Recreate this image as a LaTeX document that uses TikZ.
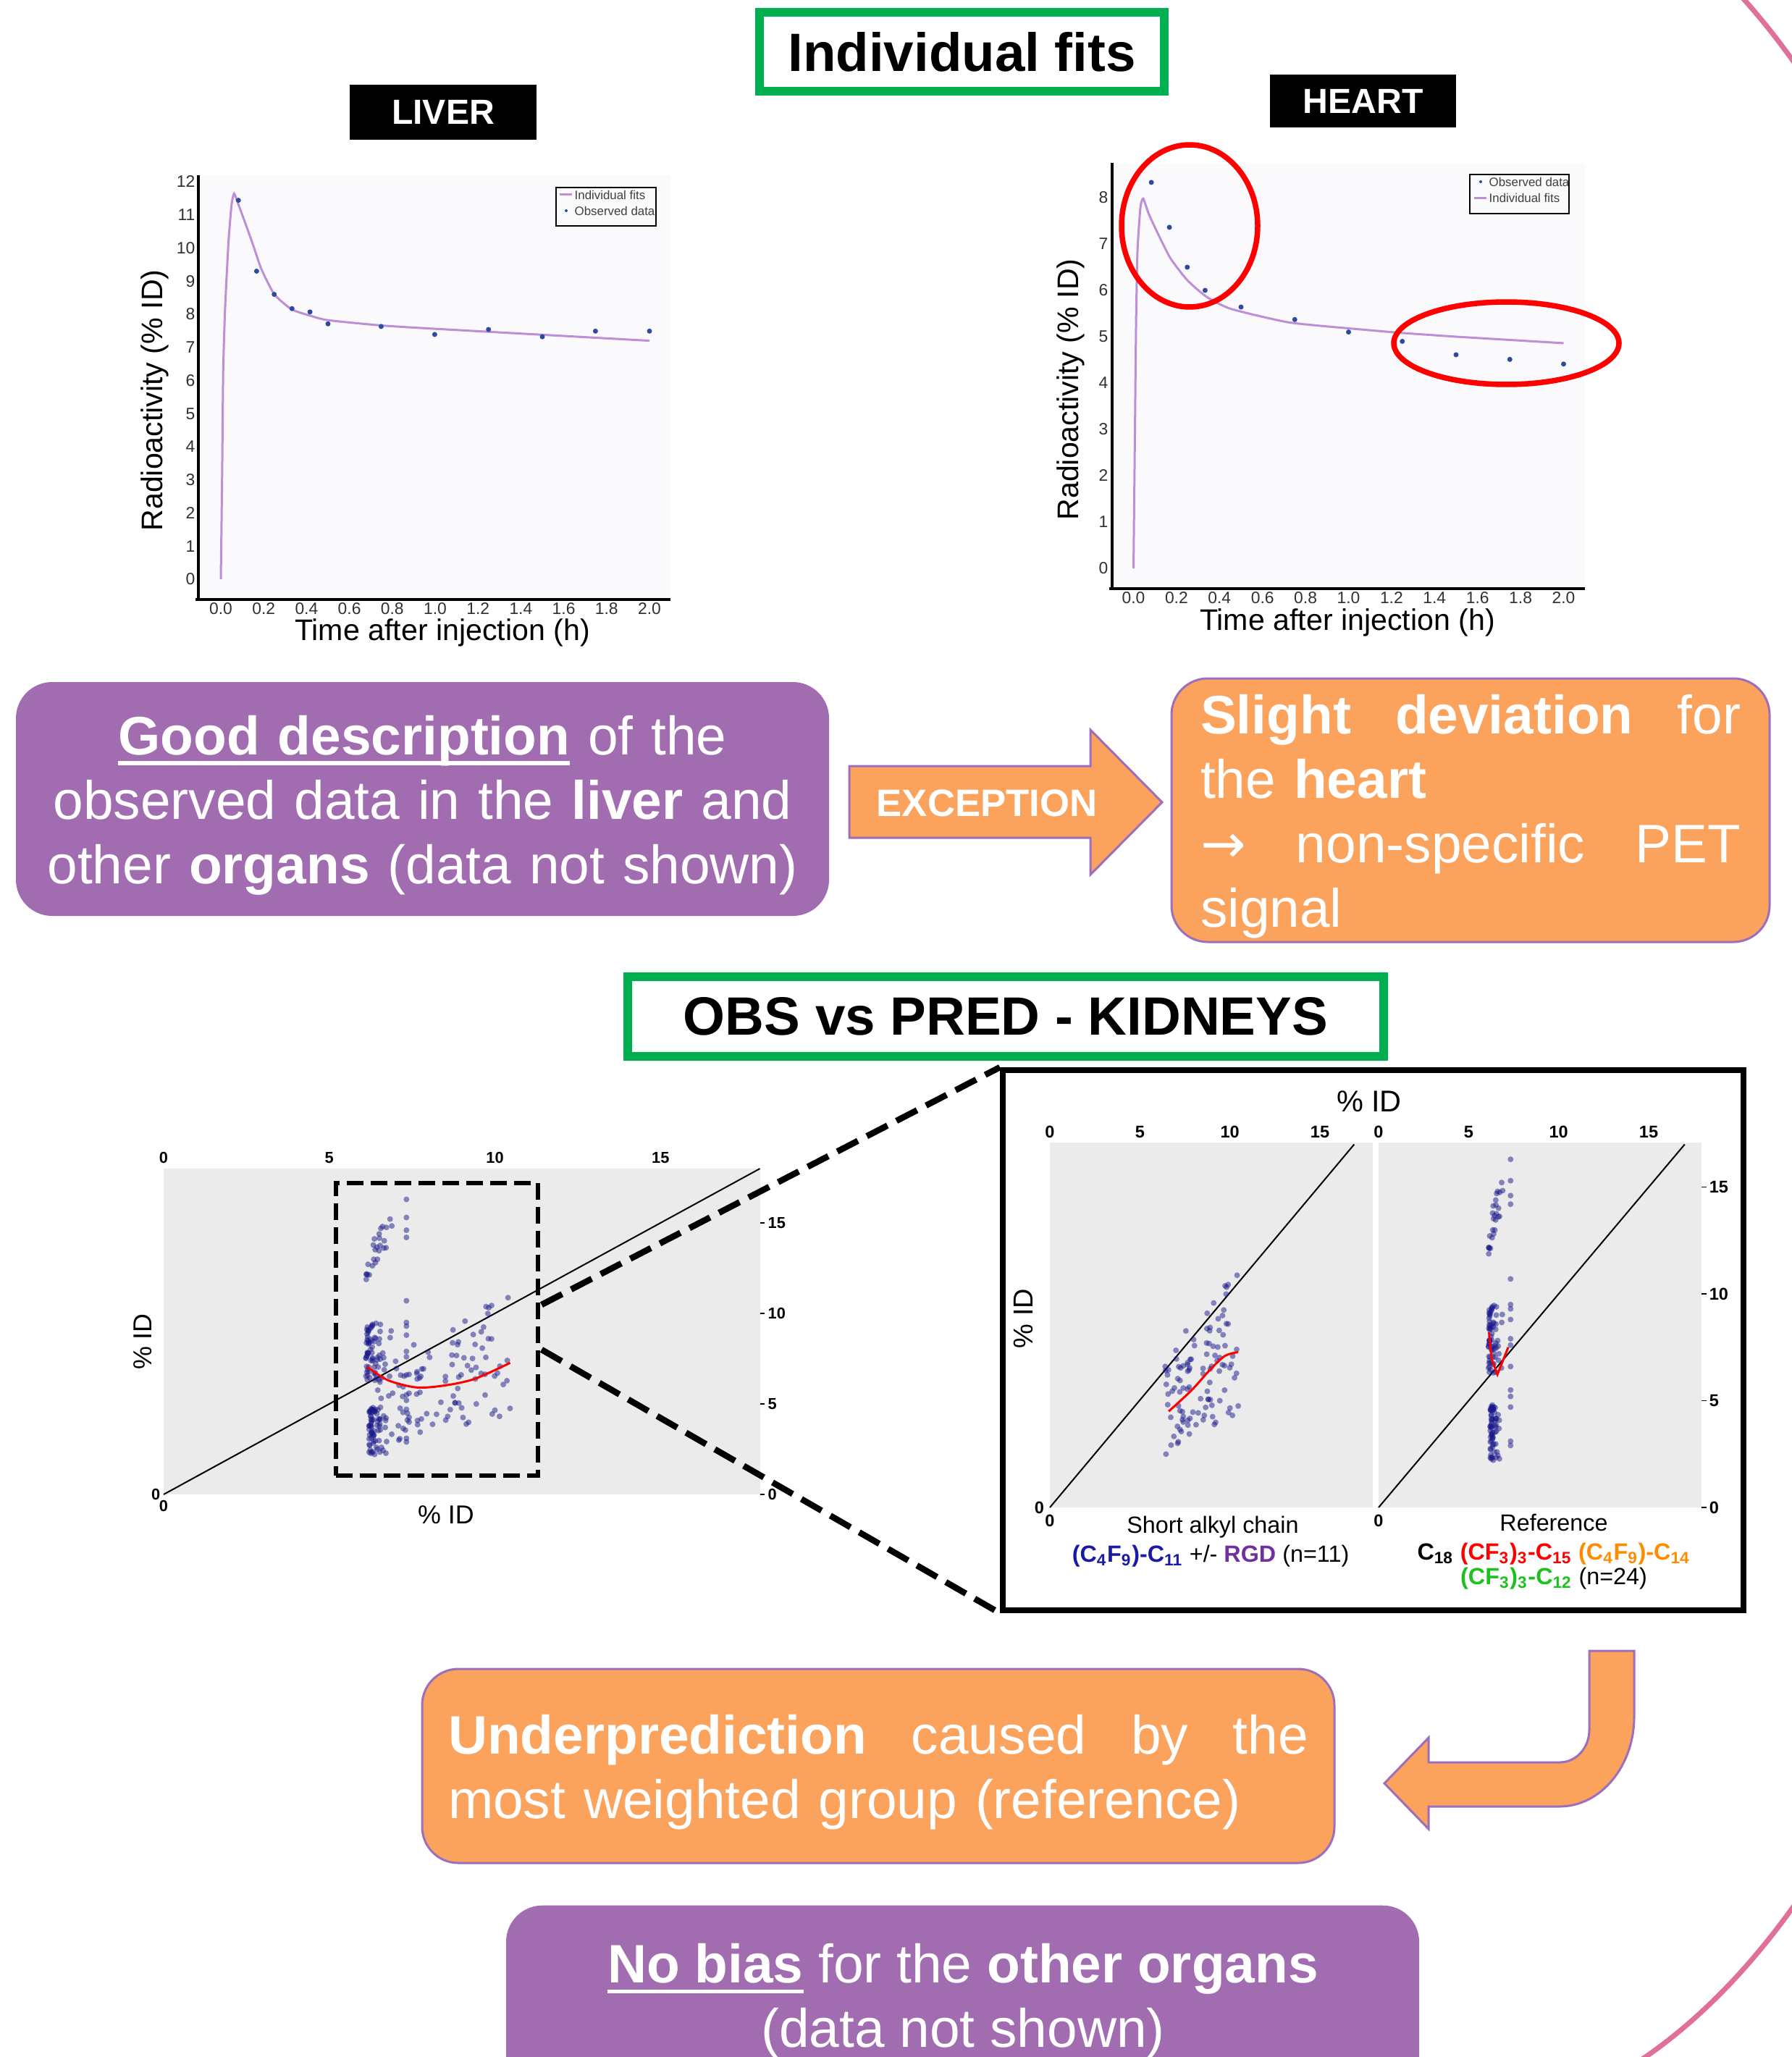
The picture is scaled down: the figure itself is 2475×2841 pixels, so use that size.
\documentclass[tikz,border=0pt]{standalone}
\usepackage{fontspec}
\setmainfont{Liberation Sans}
\newfontfamily\arrowfont{DejaVu Sans}
\usetikzlibrary{calc}

\definecolor{mypurple}{HTML}{A16CB0}
\definecolor{myorange}{HTML}{FBA25D}
\definecolor{edgepurple}{HTML}{9E6EBE}
\definecolor{mygreen}{HTML}{00B050}
\definecolor{fitline}{HTML}{BD8FD6}
\definecolor{obsdot}{HTML}{2E4A9C}
\definecolor{panelbg}{HTML}{FAFAFD}
\definecolor{scatbg}{HTML}{EBEBEB}
\definecolor{navydot}{HTML}{1A1A8C}
\definecolor{pinkarc}{HTML}{E0709A}
\definecolor{chainblue}{HTML}{1A1AA6}
\definecolor{rgdpurple}{HTML}{7030A0}
\definecolor{cforange}{HTML}{FF8C00}
\definecolor{cfgreen}{HTML}{1EC01E}
\definecolor{tickgray}{HTML}{303030}
\definecolor{legendgray}{HTML}{404040}

\newcommand\fsz[2]{\fontsize{#1}{#2}\selectfont}
\newcommand\myul[1]{\setbox0=\hbox{#1}\rlap{\rule[-0.19em]{\wd0}{0.075em}}\box0\relax}

% short alkyl chain group
\newcommand\groupS{%
  \pgfmathsetseed{11}%
  \foreach \i in {1,...,110}{%
    \pgfmathsetmacro\qa{6.4+4.1*rnd}%
    \pgfmathsetmacro\qlo{2.4+0.5*(\qa-6.4)}%
    \pgfmathsetmacro\qhi{7.2+1.0*(\qa-6.4)}%
    \pgfmathsetmacro\qb{\qlo+rnd*(\qhi-\qlo)}%
    \fill[sdot] (\qa,\qb) circle[radius=0.4mm];
  }%
}
% reference group
\newcommand\groupR{%
  \pgfmathsetseed{5}%
  \foreach \i in {1,...,26}{%
    \pgfmathsetmacro\qt{rnd}%
    \pgfmathsetmacro\qa{6.15+0.65*\qt+0.15*rand}%
    \pgfmathsetmacro\qb{11.8+3.4*\qt+0.5*rand}%
    \fill[sdot] (\qa,\qb) circle[radius=0.4mm];
  }%
  \foreach \i in {1,...,70}{%
    \pgfmathsetmacro\qa{6.1+0.9*rnd*rnd}%
    \pgfmathsetmacro\qb{6.3+3.2*rnd}%
    \fill[sdot] (\qa,\qb) circle[radius=0.4mm];
  }%
  \foreach \i in {1,...,70}{%
    \pgfmathsetmacro\qa{6.2+0.75*rnd*rnd}%
    \pgfmathsetmacro\qb{2.2+2.6*rnd}%
    \fill[sdot] (\qa,\qb) circle[radius=0.4mm];
  }%
  \foreach \qb in {16.3,15.3,14.6,14.2,10.7,9.5,9.3,8.8,7.9,7.6,6.6,5.5,5.2,4.7,3.1,2.9}{%
    \fill[sdot] (7.33,\qb) circle[radius=0.4mm];
  }%
}

\begin{document}
\begin{tikzpicture}[x=0.1mm,y=-0.1mm,
  boxtxt/.style={text=white, font=\fsz{21.3}{25.3}, inner sep=0pt},
  purplebox/.style={fill=mypurple, rounded corners=5mm, inner sep=0pt},
  orangebox/.style={fill=myorange, draw=edgepurple, line width=0.3mm, rounded corners=5mm, inner sep=0pt},
  titlebox/.style={draw=mygreen, line width=1.2mm, fill=white, font=\fsz{21.2}{25}\bfseries, inner sep=0pt},
  organlbl/.style={fill=black, text=white, font=\fsz{13.7}{16}\bfseries, inner sep=0pt},
  ticklbl/.style={font=\fsz{6.5}{7.5}, text=tickgray, inner sep=0pt},
  axtitle/.style={font=\fsz{11.7}{14}, inner sep=0pt},
  axisline/.style={line width=0.35mm, black},
  fitcurve/.style={line width=0.3mm, fitline},
  legtxt/.style={font=\fsz{4.8}{6}, text=legendgray, inner sep=0pt, anchor=west},
  redring/.style={draw=red, line width=0.75mm},
  sdot/.style={fill=navydot, fill opacity=0.5},
  scatlbl/.style={font=\fsz{6.2}{7}\bfseries, inner sep=0pt},
  inlbl/.style={font=\fsz{6.7}{7.5}\bfseries, inner sep=0pt},
  loess/.style={red, line width=0.3mm},
  diagline/.style={black, line width=0.2mm},
  capt/.style={font=\fsz{9.2}{11}, inner sep=0pt},
  zoomdash/.style={dash pattern=on 2.3mm off 1mm, line width=0.6mm},
  conndash/.style={dash pattern=on 3.2mm off 1.4mm, line width=0.85mm},
  arrowshape/.style={fill=myorange, draw=edgepurple, line width=0.3mm},
]
\useasboundingbox (0,0) rectangle (2475,2841);

% decorative pink arc
\begin{scope}
  \clip (0,0) rectangle (2475,2841);
  \draw[pinkarc, line width=0.7mm] plot[domain=-80:75, samples=150, smooth] ({1995+820*cos(\x)},{1359-1575*sin(\x)});
\end{scope}

% ---------- titles ----------
\node[titlebox, minimum width=55.9mm, minimum height=10.9mm] (tfit) at (1328.5,71.5) {Individual fits};
\node[organlbl, minimum width=25.8mm, minimum height=7.6mm] (liver) at (612,155) {LIVER};
\node[organlbl, minimum width=25.7mm, minimum height=7.3mm] (heart) at (1882.5,139.5) {HEART};

% ---------- liver plot ----------
\fill[panelbg] (274,242) rectangle (926,828);
\begin{scope}[shift={(305,800)}, x=29.6mm, y=4.575mm]
  \draw[fitcurve] plot[smooth, tension=0.35] coordinates {(0,0) (0.0065,3.4) (0.011,6.3) (0.02,8.2) (0.036,10.2) (0.05,11.3) (0.062,11.64) (0.08,11.35) (0.1,11.0) (0.118,10.68) (0.15,10.1) (0.19,9.35) (0.25,8.6) (0.33,8.15) (0.42,7.95) (0.5,7.82) (0.75,7.66) (1.0,7.56) (1.5,7.38) (2.0,7.2)};
  \foreach \t/\v in {0.082/11.44, 0.167/9.3, 0.249/8.6, 0.332/8.17, 0.416/8.07, 0.5/7.71, 0.748/7.63, 0.998/7.39, 1.249/7.54, 1.5/7.32, 1.748/7.49, 2.0/7.49}
    \fill[obsdot] (\t,\v) circle[radius=0.35mm];
  \foreach \v in {0,...,12} \node[ticklbl, anchor=east] (ly\v) at (-0.118,\v) {\v};
  \foreach \t/\l [count=\k] in {0/0.0, 0.2/0.2, 0.4/0.4, 0.6/0.6, 0.8/0.8, 1.0/1.0, 1.2/1.2, 1.4/1.4, 1.6/1.6, 1.8/1.8, 2.0/2.0}
    \node[ticklbl] (lx\k) at (\t,-0.896) {\l};
\end{scope}
\draw[axisline] (274,242) -- (274,830);
\draw[axisline] (270,828) -- (926,828);
\node[axtitle] (lxt) at (611,874) {Time after injection (h)};
\node[axtitle, rotate=90] (lyt) at (214,553) {Radioactivity (\% ID)};
\begin{scope}
  \clip (768,259) rectangle (906,312);
  \draw[fitcurve] (773,269) -- (790,269);
  \node[legtxt] (lleg1) at (793,269) {Individual fits};
  \fill[obsdot] (782,291) circle[radius=0.2mm];
  \node[legtxt] (lleg2) at (793,291) {Observed data};
\end{scope}
\draw[line width=0.25mm] (768,259) rectangle (906,312);

% ---------- heart plot ----------
\fill[panelbg] (1536,226) rectangle (2189,813);
\begin{scope}[shift={(1565.5,785)}, x=29.7mm, y=6.4mm]
  \draw[fitcurve] plot[smooth, tension=0.35] coordinates {(0,0) (0.006,2.6) (0.012,5.28) (0.0185,6.84) (0.032,7.78) (0.045,7.98) (0.071,7.65) (0.116,7.2) (0.172,6.69) (0.25,6.22) (0.34,5.86) (0.453,5.6) (0.72,5.31) (1.0,5.18) (1.25,5.08) (1.5,5.0) (1.75,4.93) (2.0,4.86)};
  \foreach \t/\v in {0.083/8.33, 0.167/7.36, 0.25/6.5, 0.333/6.0, 0.5/5.64, 0.75/5.37, 1.0/5.1, 1.25/4.9, 1.5/4.61, 1.75/4.51, 2.0/4.41}
    \fill[obsdot] (\t,\v) circle[radius=0.35mm];
  \foreach \v in {0,...,8} \node[ticklbl, anchor=east] (hy\v) at (-0.116,\v) {\v};
  \foreach \t/\l [count=\k] in {0/0.0, 0.2/0.2, 0.4/0.4, 0.6/0.6, 0.8/0.8, 1.0/1.0, 1.2/1.2, 1.4/1.4, 1.6/1.6, 1.8/1.8, 2.0/2.0}
    \node[ticklbl] (hx\k) at (\t,-0.64) {\l};
\end{scope}
\draw[axisline] (1536,225) -- (1536,815);
\draw[axisline] (1532,813) -- (2189,813);
\node[axtitle] (hxt) at (1861,860) {Time after injection (h)};
\node[axtitle, rotate=90] (hyt) at (1479,538) {Radioactivity (\% ID)};
\begin{scope}
  \clip (2030,241) rectangle (2167,295);
  \fill[obsdot] (2045,251) circle[radius=0.2mm];
  \node[legtxt] (hleg1) at (2056,251) {Observed data};
  \draw[fitcurve] (2036,273.5) -- (2053,273.5);
  \node[legtxt] (hleg2) at (2056,273.5) {Individual fits};
\end{scope}
\draw[line width=0.25mm] (2030,241) rectangle (2167,295);
\draw[redring] (1643,312) ellipse[x radius=94, y radius=112];
\draw[redring] (2080.5,474) ellipse[x radius=155.5, y radius=57];

% ---------- second row ----------
\node[purplebox, minimum width=112.3mm, minimum height=32.3mm] (goodbox) at (583.5,1103.5) {};
\node[boxtxt, text width=110mm, align=center] (good) at (583.5,1112.5)
  {\myul{\textbf{Good description}} of the\\ observed data in the \textbf{liver} and\\ other \textbf{organs} (data not shown)};
\draw[arrowshape] (1173,1058) -- (1506,1058) -- (1506,1008) -- (1605,1108) -- (1506,1208) -- (1506,1157) -- (1173,1157) -- cycle;
\node[font=\fsz{15}{18}\bfseries, text=white, inner sep=0pt] (exc) at (1363,1109) {EXCEPTION};
\node[orangebox, minimum width=82.6mm, minimum height=36.4mm] (slightbox) at (2031,1119) {};
\node[boxtxt, text width=74.6mm, align=left] (slight) at (2031,1128)
  {\makebox[74.6mm][l]{\textbf{Slight}\hfill\textbf{deviation}\hfill for}\\ the \textbf{heart}\\ \makebox[74.6mm][l]{{\arrowfont →}\hfill non-specific\hfill PET}\\ signal};

% ---------- OBS vs PRED ----------
\node[titlebox, minimum width=104.4mm, minimum height=11mm] (obs) at (1389,1404) {OBS vs PRED - KIDNEYS};

% big scatter
\fill[scatbg] (226,1614) rectangle (1050,2064);
\begin{scope}[shift={(226,2064)}, x=4.575mm, y=2.5mm]
  \draw[diagline] (0,0) -- (18,18);
  \groupS
  \groupR
  \draw[loess] plot[smooth] coordinates {(6.14,7.06) (6.77,6.31) (7.64,5.91) (8.52,6.03) (9.4,6.39) (10.46,7.27)};
  \foreach \v in {0,5,10,15}{%
    \node[scatlbl] (bt\v) at (\v,18.6) {\v};
    \draw[line width=0.15mm] (18,\v) -- (18.15,\v);
    \node[scatlbl, anchor=west] (br\v) at (18.23,\v) {\v};
  }
  \node[scatlbl] (bz1) at (0,-0.64) {0};
  \node[scatlbl, anchor=east] (bz2) at (-0.09,0) {0};
\end{scope}
\node[font=\fsz{10.2}{12}, inner sep=0pt, rotate=90] (bigyl) at (197,1853) {\% ID};
\node[font=\fsz{10.2}{12}, inner sep=0pt] (bigxl) at (616,2092) {\% ID};
\node[draw, zoomdash, minimum width=27.9mm, minimum height=40.4mm, inner sep=0pt] (zoomrect) at (603.5,1836) {};

% zoomed box
\node[draw, line width=0.8mm, minimum width=102.3mm, minimum height=74.6mm, inner sep=0pt] (zoombox) at (1896.5,1851) {};
\coordinate (cu) at ($(zoomrect.east)+(2,-34)$);
\coordinate (cl) at ($(zoomrect.east)+(2,28)$);
\draw[conndash] (cu) -- (zoombox.north west);
\draw[conndash] (cl) -- (zoombox.south west);

\node[font=\fsz{11.8}{14}, inner sep=0pt] (intop) at (1891,1521) {\% ID};
\node[font=\fsz{10.8}{13}, inner sep=0pt, rotate=90] (inyl) at (1413,1821) {\% ID};

% inner left panel
\fill[scatbg] (1450,1578) rectangle (1896,2082);
\begin{scope}[shift={(1450,2082)}, x=2.487mm, y=2.95mm]
  \draw[diagline] (0,0) -- (16.9,17.0);
  \groupS
  \draw[loess] plot[smooth] coordinates {(6.6,4.5) (7.87,5.49) (8.93,6.48) (9.73,7.1) (10.45,7.27)};
  \foreach \v in {0,5,10,15} \node[inlbl] (lt\v) at (\v,17.59) {\v};
  \node[inlbl] (lz1) at (0,-0.61) {0};
  \node[inlbl, anchor=east] (lz2) at (-0.3,0) {0};
\end{scope}

% inner right panel
\fill[scatbg] (1904,1578) rectangle (2350,2082);
\begin{scope}[shift={(1904,2082)}, x=2.487mm, y=2.95mm]
  \draw[diagline] (0,0) -- (17.0,17.0);
  \groupR
  \draw[loess] (6.13,8.2) -- (6.27,6.97) -- (6.6,6.23) -- (7.2,7.5);
  \foreach \v in {0,5,10,15}{%
    \node[inlbl] (rt\v) at (\v,17.59) {\v};
    \draw[line width=0.15mm] (17.93,\v) -- (18.2,\v);
    \node[inlbl, anchor=west] (rr\v) at (18.34,\v) {\v};
  }
  \node[inlbl] (rz1) at (0,-0.61) {0};
\end{scope}

\node[capt] (sac) at (1675,2109) {Short alkyl chain};
\node[capt] (sac2) at (1672,2149) {{\color{chainblue}\textbf{(C\textsubscript{4}F\textsubscript{9})-C\textsubscript{11}}} +/- {\color{rgdpurple}\textbf{RGD}} (n=11)};
\node[capt] (refc) at (2146,2103) {Reference};
\node[capt] (refc2) at (2146,2146) {\textbf{C\textsubscript{18}} {\color{red}\textbf{(CF\textsubscript{3})\textsubscript{3}-C\textsubscript{15}}} {\color{cforange}\textbf{(C\textsubscript{4}F\textsubscript{9})-C\textsubscript{14}}}};
\node[capt] (refc3) at (2146,2180) {{\color{cfgreen}\textbf{(CF\textsubscript{3})\textsubscript{3}-C\textsubscript{12}}} (n=24)};

% ---------- bottom ----------
\draw[arrowshape] (2195,2280) -- (2257,2280) -- (2257,2371) .. controls (2257,2439) and (2211,2495) .. (2154,2495) -- (1973,2495) -- (1973,2526) -- (1912,2463) -- (1973,2400) -- (1973,2434) -- (2154,2434) .. controls (2177,2434) and (2195,2414) .. (2195,2389) -- cycle;

\node[orangebox, minimum width=126mm, minimum height=26.8mm] (underbox) at (1213,2439) {};
\node[boxtxt, text width=118.8mm, align=left] (under) at (1213,2448)
  {\makebox[118.8mm][l]{\textbf{Underprediction}\hfill caused\hfill by\hfill the}\\ most weighted group (reference)};

\begin{scope}
  \clip (0,0) rectangle (2475,2841);
  \node[purplebox, minimum width=126.1mm, minimum height=33mm, anchor=north] (nobiasbox) at (1329.5,2631) {};
\end{scope}
\node[boxtxt, align=center] (nobias) at (1330,2764) {\myul{\textbf{No bias}} for the \textbf{other organs}\\ (data not shown)};

\end{tikzpicture}
\end{document}
